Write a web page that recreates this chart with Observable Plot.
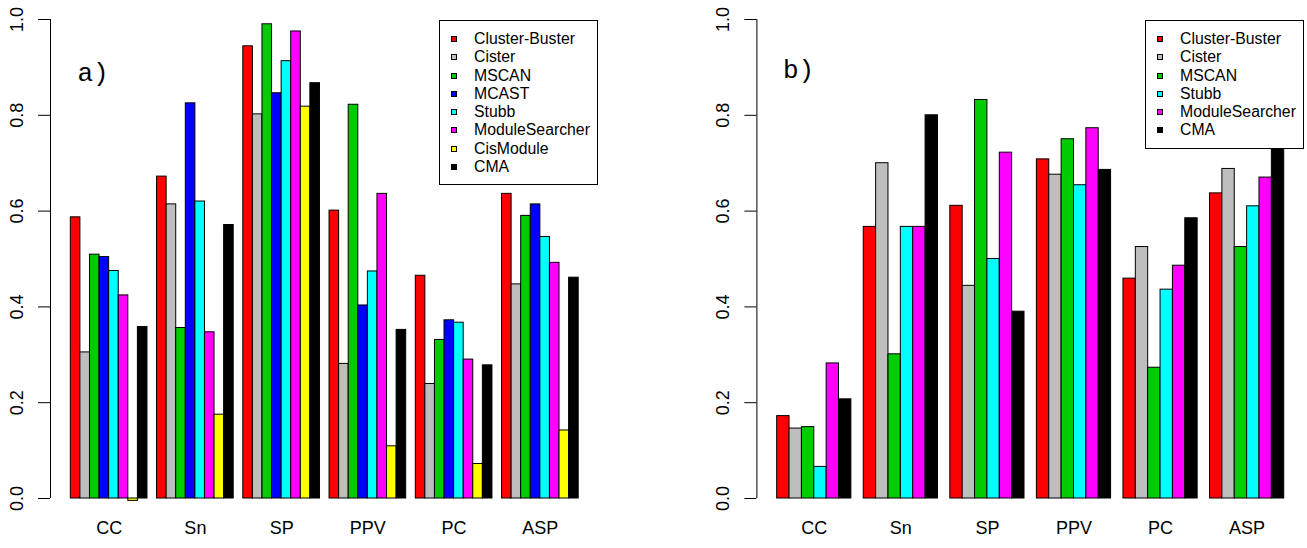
<!DOCTYPE html>
<html>
<head>
<meta charset="utf-8">
<script src="https://cdn.jsdelivr.net/npm/d3@7"></script>
<script src="https://cdn.jsdelivr.net/npm/@observablehq/plot@0.6"></script>
<style>
  html, body { margin: 0; padding: 0; background: #fff; }
  #wrap { position: relative; width: 1307px; height: 548px; overflow: hidden; }
  .panel { position: absolute; top: 0; }
  .legend { position: absolute; top: 20px; box-sizing: border-box; border: 1px solid #000;
            background: #fff; padding-top: 9px; font-family: "Liberation Sans", Arial, sans-serif;
            font-size: 15.8px; color: #000; }
  .legend .row { position: relative; height: 18.3px; }
  .legend .sw { position: absolute; left: 11px; top: 6px; width: 4px; height: 4px; border: 1px solid #000; }
  .legend .txt { position: absolute; left: 34px; top: 0; line-height: 18.3px; white-space: nowrap; }
</style>
</head>
<body>
<div id="wrap"></div>
<script>
// ---- data ----
const metrics = ["CC", "Sn", "SP", "PPV", "PC", "ASP"];
const yTicks = [0, 0.2, 0.4, 0.6, 0.8, 1.0];

const methodsA = ["Cluster-Buster", "Cister", "MSCAN", "MCAST", "Stubb", "ModuleSearcher", "CisModule", "CMA"];
const colorsA  = ["#FF0000", "#BEBEBE", "#00CD00", "#0000FF", "#00FFFF", "#FF00FF", "#FFFF00", "#000000"];
// one row per method, values for CC, Sn, SP, PPV, PC, ASP
const valuesA = [
  [0.587, 0.672, 0.944, 0.601, 0.465, 0.636],
  [0.305, 0.614, 0.802, 0.281, 0.239, 0.447],
  [0.509, 0.356, 0.990, 0.822, 0.331, 0.590],
  [0.504, 0.825, 0.846, 0.403, 0.372, 0.614],
  [0.475, 0.620, 0.913, 0.474, 0.367, 0.546],
  [0.424, 0.347, 0.975, 0.636, 0.290, 0.492],
  [-0.005, 0.175, 0.818, 0.109, 0.072, 0.142],
  [0.358, 0.571, 0.867, 0.352, 0.278, 0.461]
];

const methodsB = ["Cluster-Buster", "Cister", "MSCAN", "Stubb", "ModuleSearcher", "CMA"];
const colorsB  = ["#FF0000", "#BEBEBE", "#00CD00", "#00FFFF", "#FF00FF", "#000000"];
const valuesB = [
  [0.172, 0.567, 0.611, 0.708, 0.459, 0.637],
  [0.146, 0.700, 0.444, 0.676, 0.525, 0.688],
  [0.149, 0.301, 0.832, 0.750, 0.273, 0.525],
  [0.066, 0.567, 0.500, 0.654, 0.436, 0.610],
  [0.282, 0.567, 0.722, 0.773, 0.486, 0.670],
  [0.207, 0.800, 0.390, 0.686, 0.585, 0.743]
];

// ---- drawing ----
function panel({methods, colors, values, label, left, width, marginLeft, marginRight, legendLeft, labelDx, labelDy}) {
  const n = methods.length;
  const rows = [];
  metrics.forEach((m, g) => {
    methods.forEach((meth, i) => {
      const x1 = g * (n + 1) + i + 1;   // barplot-style positions (space = 1 between groups)
      rows.push({metric: m, method: meth, x1, x2: x1 + 1, value: values[i][g]});
    });
  });
  const last = metrics.length * (n + 1);
  const ext = 0.04 * (last - 1);
  const xDomain = [1 - ext, last + ext];
  const center = (i) => i * (n + 1) + 1 + n / 2;

  const chart = Plot.plot({
    width, height: 548,
    marginLeft, marginRight, marginTop: 19, marginBottom: 50,
    x: {domain: xDomain, axis: null},
    y: {domain: [0, 1], axis: null},
    color: {domain: methods, range: colors},
    style: {fontFamily: "'Liberation Sans', Arial, sans-serif", fontSize: "18px", color: "#000", background: "#fff", overflow: "visible"},
    marks: [
      Plot.rect(rows, {x1: "x1", x2: "x2", y1: 0, y2: "value", fill: "method", stroke: "#000", strokeWidth: 1}),
      Plot.ruleX([xDomain[0]], {y1: yTicks[0], y2: yTicks[yTicks.length - 1], stroke: "#000", strokeWidth: 1}),
      Plot.axisY(yTicks, {anchor: "left", label: null, tickSize: 12, tickPadding: 16, tickRotate: -90,
                          tickFormat: d3.format(".1f"), stroke: "#000", fill: "#000", fontSize: 18}),
      Plot.text(metrics, {x: (d, i) => center(i), text: d => d, frameAnchor: "bottom", dy: 35, fill: "#000", fontSize: 18}),
      Plot.text([label], {text: d => d, frameAnchor: "top-left", textAnchor: "start", dx: labelDx, dy: labelDy,
                          fontFamily: "'Liberation Mono', 'DejaVu Sans Mono', monospace", fontSize: 26, fill: "#000"})
    ]
  });

  const div = document.createElement("div");
  div.className = "panel";
  div.style.left = left + "px";
  div.style.width = width + "px";
  div.style.height = "548px";
  div.appendChild(chart);

  const leg = d3.select(div).append("div").attr("class", "legend")
    .style("left", legendLeft + "px").style("width", "159px")
    .style("height", (9 + 1 + methods.length * 18.3 + 9) + "px");
  methods.forEach((m, i) => {
    const r = leg.append("div").attr("class", "row");
    r.append("div").attr("class", "sw").style("background", colors[i]);
    r.append("div").attr("class", "txt").text(m);
  });
  document.getElementById("wrap").appendChild(div);
}

panel({methods: methodsA, colors: colorsA, values: valuesA, label: "a)",
       left: 0, width: 653, marginLeft: 50, marginRight: 54.5, legendLeft: 439, labelDx: 27, labelDy: 43});
panel({methods: methodsB, colors: colorsB, values: valuesB, label: "b)",
       left: 653, width: 654, marginLeft: 103.4, marginRight: 3, legendLeft: 492, labelDx: 26, labelDy: 40});
</script>
</body>
</html>
